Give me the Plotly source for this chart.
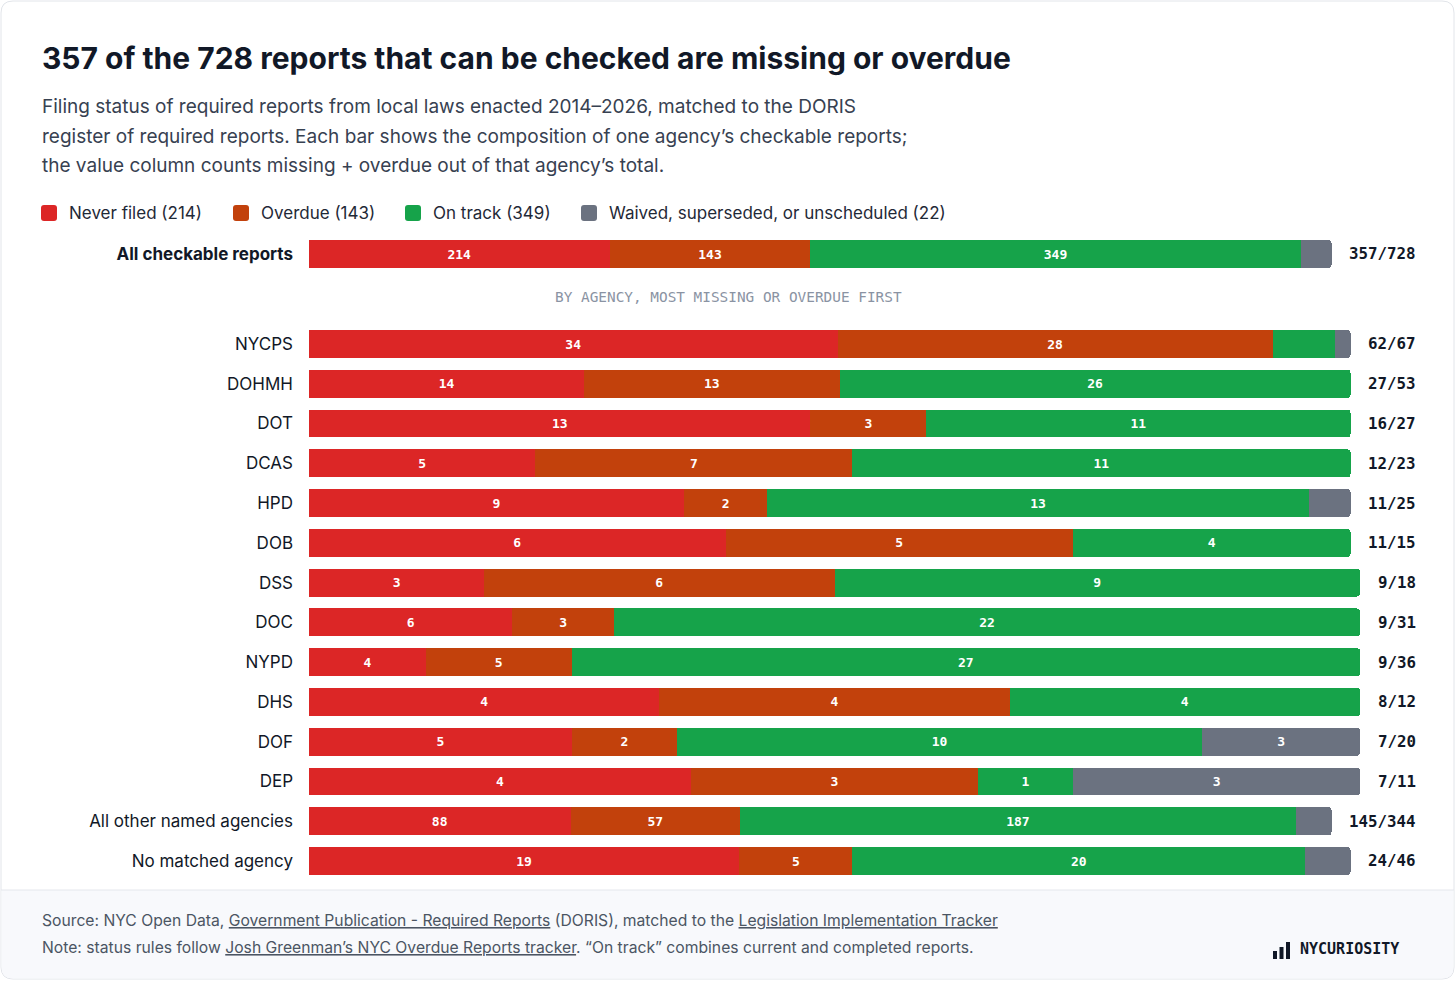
import plotly.graph_objects as go

W, H = 1456, 981

# ---- data ----
statuses = ['Never filed', 'Overdue', 'On track', 'Waived, superseded, or unscheduled']
colors = ['#dc2626', '#c2410c', '#16a34a', '#6b7280']

overall_name = 'All checkable reports'
overall_counts = [214, 143, 349, 22]

agencies = ['NYCPS', 'DOHMH', 'DOT', 'DCAS', 'HPD', 'DOB', 'DSS', 'DOC', 'NYPD',
            'DHS', 'DOF', 'DEP', 'All other named agencies', 'No matched agency']
never_filed = [34, 14, 13, 5, 9, 6, 3, 6, 4, 4, 5, 4, 88, 19]
overdue = [28, 13, 3, 7, 2, 5, 6, 3, 5, 4, 2, 3, 57, 5]
on_track = [4, 26, 11, 11, 13, 4, 9, 22, 27, 4, 10, 1, 187, 20]
waived = [1, 0, 0, 0, 1, 0, 0, 0, 0, 0, 3, 3, 12, 2]

FONT = 'Inter'
MONO = 'DejaVu Sans Mono'
SPAN_PX = 1051      # bar area width in px for the narrowest value label
CHAR_PX = 9.5       # one mono char of the value column eats this much bar


def fx(p):
    return p / W


def fy(p):
    return 1 - p / H


def rpath(x0, y0, x1, y1, r, top=True, bottom=True):
    rt = r if top else 0
    rb = r if bottom else 0
    pts = [
        f'M{fx(x0 + rt)},{fy(y0)}', f'L{fx(x1 - rt)},{fy(y0)}',
        f'Q{fx(x1)},{fy(y0)} {fx(x1)},{fy(y0 + rt)}', f'L{fx(x1)},{fy(y1 - rb)}',
        f'Q{fx(x1)},{fy(y1)} {fx(x1 - rb)},{fy(y1)}', f'L{fx(x0 + rb)},{fy(y1)}',
        f'Q{fx(x0)},{fy(y1)} {fx(x0)},{fy(y1 - rb)}', f'L{fx(x0)},{fy(y0 + rt)}',
        f'Q{fx(x0)},{fy(y0)} {fx(x0 + rt)},{fy(y0)}', 'Z']
    return ' '.join(pts)


def value_label(counts):
    return f'{counts[0] + counts[1]}/{sum(counts)}'


def bar_scale(label):
    return (SPAN_PX - CHAR_PX * (len(label) - 4)) / SPAN_PX


rows = [list(t) for t in zip(never_filed, overdue, on_track, waived)]

fig = go.Figure()

for i, (status, col) in enumerate(zip(statuses, colors)):
    # overall bar
    lab = value_label(overall_counts)
    tot = sum(overall_counts)
    v = overall_counts[i]
    fig.add_trace(go.Bar(
        x=[v / tot * bar_scale(lab)], y=['<b>' + overall_name + '</b>'], orientation='h',
        xaxis='x', yaxis='y', width=0.7, marker=dict(color=col, line=dict(width=0)),
        text=[str(v) if v / tot >= 0.07 else ''], textposition='inside',
        insidetextanchor='middle', textangle=0,
        textfont=dict(family=MONO, size=13, color='white', weight='bold'),
        name=status, showlegend=False, hoverinfo='skip'))
    # agency bars
    xs, ts = [], []
    for r in rows:
        lab = value_label(r)
        tot = sum(r)
        xs.append(r[i] / tot * bar_scale(lab))
        ts.append(str(r[i]) if r[i] / tot >= 0.07 else '')
    fig.add_trace(go.Bar(
        x=xs, y=agencies, orientation='h', xaxis='x', yaxis='y2', width=0.7,
        marker=dict(color=col, line=dict(width=0)),
        text=ts, textposition='inside', insidetextanchor='middle', textangle=0,
        textfont=dict(family=MONO, size=13, color='white', weight='bold'),
        name=status, showlegend=False, hoverinfo='skip'))

pitch = (861 - 344) / 13
shapes = [
    dict(type='path', xref='paper', yref='paper', layer='below',
         path=rpath(1, 1, 1454, 979, 12), fillcolor='white',
         line=dict(color='#e2e5ea', width=1)),
    dict(type='path', xref='paper', yref='paper', layer='below',
         path=rpath(1.5, 890, 1453.5, 978.5, 12, top=False), fillcolor='#f8f9fc',
         line=dict(width=0)),
    dict(type='line', xref='paper', yref='paper', layer='below',
         x0=fx(1), x1=fx(1454), y0=fy(890), y1=fy(890),
         line=dict(color='#e4e7ec', width=1)),
]

annotations = []

# title + subtitle
annotations.append(dict(
    x=fx(39.5), y=fy(58), xref='paper', yref='paper', xanchor='left', yanchor='middle',
    text='<b>357 of the 728 reports that can be checked are missing or overdue</b>',
    showarrow=False, font=dict(family=FONT, size=30, color='#111827')))
sub_lines = [
    'Filing status of required reports from local laws enacted 2014–2026, matched to the DORIS',
    'register of required reports. Each bar shows the composition of one agency’s checkable reports;',
    'the value column counts missing + overdue out of that agency’s total.',
]
for k, line in enumerate(sub_lines):
    annotations.append(dict(
        x=fx(39.5), y=fy(106 + 30 * k), xref='paper', yref='paper', xanchor='left',
        yanchor='middle', text=line, showarrow=False,
        font=dict(family=FONT, size=19, color='#374151')))

# legend
legend_x = [41, 233, 405, 581]
legend_text = [f'{s} ({sum(c)})' for s, c in zip(statuses, [never_filed, overdue, on_track, waived])]
for lx, lt, col in zip(legend_x, legend_text, colors):
    shapes.append(dict(type='path', xref='paper', yref='paper',
                       path=rpath(lx, 205, lx + 16, 221, 3), fillcolor=col, line=dict(width=0)))
    annotations.append(dict(
        x=fx(lx + 26), y=fy(213), xref='paper', yref='paper', xanchor='left',
        yanchor='middle', text=lt, showarrow=False,
        font=dict(family=FONT, size=17, color='#1f2937')))

# divider caption
annotations.append(dict(
    x=fx(728), y=fy(297), xref='paper', yref='paper', xanchor='center', yanchor='middle',
    text='BY AGENCY, MOST MISSING OR OVERDUE FIRST', showarrow=False,
    font=dict(family=MONO, size=14.4, color='#8a93a3')))

# value column
annotations.append(dict(
    x=fx(1418), y='<b>' + overall_name + '</b>', xref='paper', yref='y', xanchor='right',
    yanchor='middle', text='<b>' + value_label(overall_counts) + '</b>', showarrow=False,
    font=dict(family=MONO, size=15.8, color='#111827')))
for a, r in zip(agencies, rows):
    annotations.append(dict(
        x=fx(1418), y=a, xref='paper', yref='y2', xanchor='right', yanchor='middle',
        text='<b>' + value_label(r) + '</b>', showarrow=False,
        font=dict(family=MONO, size=15.8, color='#111827')))

# footer
u = '<span style="text-decoration:underline">{}</span>'
foot1 = ('Source: NYC Open Data, ' + u.format('Government Publication - Required Reports')
         + ' (DORIS), matched to the ' + u.format('Legislation Implementation Tracker'))
foot2 = ('Note: status rules follow ' + u.format('Josh Greenman’s NYC Overdue Reports tracker')
         + '. “On track” combines current and completed reports.')
for yy, t in [(920, foot1), (947, foot2)]:
    annotations.append(dict(
        x=fx(39.5), y=fy(yy), xref='paper', yref='paper', xanchor='left', yanchor='middle',
        text=t, showarrow=False, font=dict(family=FONT, size=15.7, color='#4b5563')))

# logo
for bx0, bx1, by0 in [(1273, 1277, 951), (1279.5, 1283.5, 947), (1286, 1290, 942)]:
    shapes.append(dict(type='rect', xref='paper', yref='paper', x0=fx(bx0), x1=fx(bx1),
                       y0=fy(by0), y1=fy(959), fillcolor='#111827', line=dict(width=0)))
annotations.append(dict(
    x=fx(1298), y=fy(949), xref='paper', yref='paper', xanchor='left', yanchor='middle',
    text='<b>NYCURIOSITY</b>', showarrow=False,
    font=dict(family=MONO, size=15, color='#111827')))

fig.update_layout(
    width=W, height=H, margin=dict(l=0, r=0, t=0, b=0),
    paper_bgcolor='white', plot_bgcolor='rgba(0,0,0,0)',
    barmode='stack', barcornerradius=3,
    xaxis=dict(domain=[fx(309), fx(309 + SPAN_PX)], range=[0, 1], visible=False,
               fixedrange=True, anchor='y2'),
    yaxis=dict(domain=[fy(254 + pitch / 2), fy(254 - pitch / 2)], anchor='x',
               showgrid=False, zeroline=False, showline=False, ticks='',
               ticklabelstandoff=15,
               tickfont=dict(family=FONT, size=17, color='#111827')),
    yaxis2=dict(domain=[fy(861 + pitch / 2), fy(344 - pitch / 2)], anchor='x',
                autorange='reversed', showgrid=False, zeroline=False, showline=False,
                ticks='', ticklabelstandoff=15,
                tickfont=dict(family=FONT, size=17, color='#111827')),
    shapes=shapes, annotations=annotations, showlegend=False,
)

# the page's default body margin would push the card 8px in
fig.write_html('out.html', config={'displayModeBar': False},
               post_script="document.body.style.margin='0';")
